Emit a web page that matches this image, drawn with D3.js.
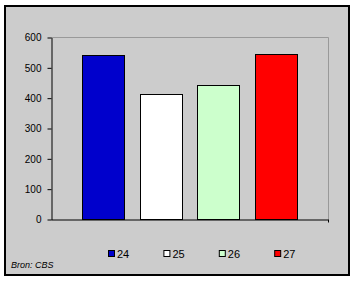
<!DOCTYPE html>
<html>
<head>
<meta charset="utf-8">
<script src="https://cdn.jsdelivr.net/npm/d3@7"></script>
<style>
  html, body { margin: 0; padding: 0; background: #ffffff; }
  svg text { font-family: Arial, "Liberation Sans", sans-serif; fill: #000; }
</style>
</head>
<body>
<div id="chart"></div>
<script>
// Data
const series = ["24", "25", "26", "27"];
const values = [540, 413, 441, 544];
const colors = ["#0000cc", "#ffffff", "#ccffcc", "#ff0000"];
const yTicks = [0, 100, 200, 300, 400, 500, 600];
const source = "Bron: CBS";

const width = 356;
const height = 282;
const plot = { left: 51, right: 328, top: 37, bottom: 219 };

const svg = d3
  .select("#chart")
  .append("svg")
  .attr("width", width)
  .attr("height", height);

// outer chart area with border
svg
  .append("rect")
  .attr("x", 5)
  .attr("y", 6)
  .attr("width", 344)
  .attr("height", 269)
  .attr("fill", "#cccccc")
  .attr("stroke", "#000")
  .attr("stroke-width", 2);

// Scales
const x = d3
  .scaleBand()
  .domain(series)
  .range([plot.left, plot.right])
  .paddingInner(0.27)
  .paddingOuter(0.535);

const y = d3.scaleLinear().domain([0, 600]).range([plot.bottom, plot.top]);

// gray frame top + right
svg
  .append("path")
  .attr(
    "d",
    `M${plot.left},${y(600) + 0.5}H${plot.right + 0.5}V${plot.bottom}`
  )
  .attr("fill", "none")
  .attr("stroke", "#999999")
  .attr("stroke-width", 1);

// Bars
svg
  .selectAll(".bar")
  .data(values)
  .join("rect")
  .attr("class", "bar")
  .attr("x", (d, i) => Math.round(x(series[i])) + 0.5)
  .attr("y", (d) => Math.round(y(d)) + 0.5)
  .attr("width", Math.round(x.bandwidth()))
  .attr("height", (d) => Math.round(y(0)) - Math.round(y(d)))
  .attr("fill", (d, i) => colors[i])
  .attr("stroke", "#000")
  .attr("stroke-width", 1);

// Y axis
const yAxis = svg
  .append("g")
  .attr("transform", `translate(${plot.left + 0.5},0.5)`)
  .call(
    d3.axisLeft(y).tickValues(yTicks).tickSize(4).tickPadding(6).tickSizeOuter(0)
  );
yAxis.select(".domain").attr("stroke", "#000");
yAxis.selectAll(".tick line").attr("stroke", "#000");
yAxis
  .selectAll("text")
  .style("font-size", "10px")
  .attr("dy", "0.34em");

// X axis (no labels, only end tick)
const xAxis = svg
  .append("g")
  .attr("transform", `translate(0,${plot.bottom + 0.5})`)
  .call(d3.axisBottom(x).tickSize(0).tickFormat(""));
xAxis.select(".domain").attr("stroke", "#000");
xAxis
  .append("line")
  .attr("x1", plot.right + 0.5)
  .attr("x2", plot.right + 0.5)
  .attr("y1", 0)
  .attr("y2", 3)
  .attr("stroke", "#000");

// Legend
const legend = svg
  .selectAll(".legend")
  .data(series)
  .join("g")
  .attr("class", "legend")
  .attr("transform", (d, i) => `translate(${108 + i * 55.4},250)`);

legend
  .append("rect")
  .attr("x", 0.5)
  .attr("y", 0.5)
  .attr("width", 6)
  .attr("height", 6)
  .attr("fill", (d, i) => colors[i])
  .attr("stroke", "#000");

legend
  .append("text")
  .attr("x", 9)
  .attr("y", 8)
  .style("font-size", "11px")
  .text((d) => d);

// Source
svg
  .append("text")
  .attr("x", 11)
  .attr("y", 268)
  .style("font-size", "9px")
  .style("font-style", "italic")
  .text(source);
</script>
</body>
</html>
